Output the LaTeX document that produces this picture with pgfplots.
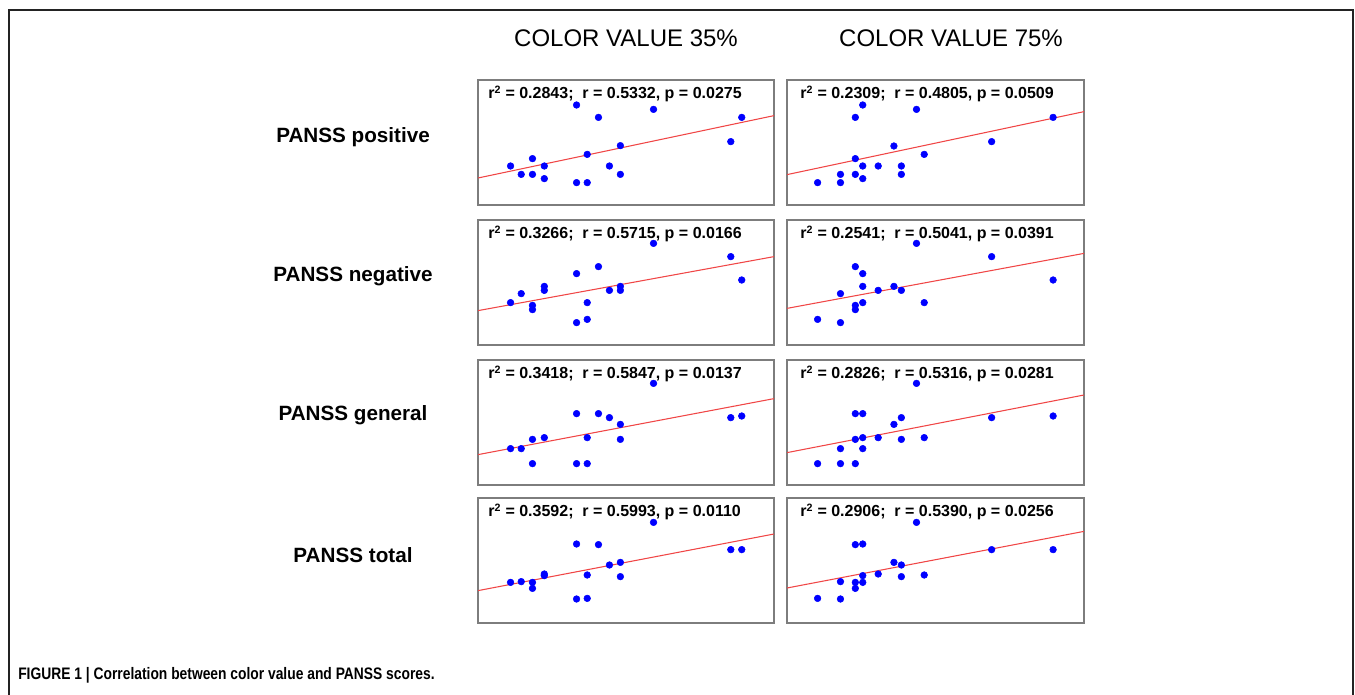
\documentclass[border=0pt]{standalone}
\usepackage{fontspec}
\setmainfont{Liberation Sans}
\usepackage{pgfplots}
\pgfplotsset{compat=1.18}
\definecolor{ptblue}{RGB}{0,0,255}
\definecolor{fitred}{RGB}{240,70,70}
\definecolor{boxgray}{RGB}{125,125,125}
\definecolor{framec}{RGB}{35,35,35}
\pgfplotsset{
  panel/.style={scale only axis, anchor=north west, height=93.75pt,
    xmin=0, xmax=100, ymin=0, ymax=100, xtick=\empty, ytick=\empty,
    axis line style={boxgray, line width=1.1pt}, clip=true},
  pts/.style={only marks, mark=*, mark size=2.5pt, color=ptblue,
    mark options={fill=ptblue, draw=ptblue}},
  fit/.style={no marks, color=fitred, line width=0.8pt}
}
\newcommand{\stat}[3]{\fontsize{12pt}{14pt}\selectfont\bfseries r\textsuperscript{2} = #1;\ \ r = #2, p = #3}
\begin{document}
\begin{tikzpicture}[x=0.75pt, y=-0.75pt]
\useasboundingbox (0,0) rectangle (1355,695);
\draw[line width=2pt, color=framec] (9,695) -- (9,10) -- (1353,10) -- (1353,695);

% column headings
\node[font=\fontsize{18pt}{21pt}\selectfont] at (626,38) {COLOR VALUE 35\%};
\node[font=\fontsize{18pt}{21pt}\selectfont] at (951,38) {COLOR VALUE 75\%};
% row labels
\node[font=\fontsize{15.5pt}{18pt}\selectfont\bfseries] at (353,137) {PANSS positive};
\node[font=\fontsize{15.5pt}{18pt}\selectfont\bfseries] at (353,276) {PANSS negative};
\node[font=\fontsize{15.5pt}{18pt}\selectfont\bfseries] at (353,415) {PANSS general};
\node[font=\fontsize{15.5pt}{18pt}\selectfont\bfseries] at (353,555) {PANSS total};

% Row 1: positive
\begin{axis}[panel, at={(358.5pt,-60pt)}, width=222pt]
\addplot[fit] coordinates {(0,21.6)(100,71.5)};
\addplot[pts] coordinates {(11.0,31.2)(14.6,24.5)(18.4,37.1)(18.4,24.5)(22.4,31.2)(22.4,21.1)(33.3,80.0)(33.3,17.9)(36.9,40.5)(36.9,17.9)(40.7,70.1)(44.4,31.2)(48.1,47.5)(48.1,24.5)(59.3,76.5)(85.4,50.7)(89.1,70.1)};
\end{axis}
\begin{axis}[panel, at={(590.25pt,-60pt)}, width=222.75pt]
\addplot[fit] coordinates {(0,24.3)(100,74.7)};
\addplot[pts] coordinates {(10.3,17.9)(18.0,24.5)(18.0,17.9)(23.0,70.1)(23.0,37.1)(23.0,24.5)(25.5,80.0)(25.5,31.2)(25.5,21.1)(30.7,31.2)(36.0,47.2)(38.5,31.2)(38.5,24.5)(43.6,76.5)(46.2,40.5)(68.9,50.7)(89.6,70.1)};
\end{axis}

% Row 2: negative
\begin{axis}[panel, at={(358.5pt,-165pt)}, width=222pt]
\addplot[fit] coordinates {(0,27.5)(100,70.7)};
\addplot[pts] coordinates {(11.0,33.9)(14.6,41.1)(18.4,31.7)(18.4,28.3)(22.4,46.9)(22.4,43.7)(33.3,57.1)(33.3,17.9)(36.9,33.9)(36.9,20.5)(40.7,62.7)(44.4,43.7)(48.1,46.9)(48.1,43.7)(59.3,81.3)(85.4,70.7)(89.1,52.0)};
\end{axis}
\begin{axis}[panel, at={(590.25pt,-165pt)}, width=222.75pt]
\addplot[fit] coordinates {(0,29.3)(100,73.3)};
\addplot[pts] coordinates {(10.3,20.5)(18.0,41.1)(18.0,17.9)(23.0,62.7)(23.0,31.7)(23.0,28.3)(25.5,57.1)(25.5,46.9)(25.5,33.9)(30.7,43.7)(36.0,46.9)(38.5,43.7)(43.6,81.3)(46.2,33.9)(68.9,70.7)(89.6,52.0)};
\end{axis}

% Row 3: general
\begin{axis}[panel, at={(358.5pt,-270pt)}, width=222pt]
\addplot[fit] coordinates {(0,24.3)(100,69.1)};
\addplot[pts] coordinates {(11.0,29.1)(14.6,29.1)(18.4,36.5)(18.4,17.1)(22.4,37.9)(33.3,57.1)(33.3,17.1)(36.9,37.9)(36.9,17.1)(40.7,57.1)(44.4,53.9)(48.1,48.5)(48.1,36.5)(59.3,81.3)(85.4,53.9)(89.1,55.2)};
\end{axis}
\begin{axis}[panel, at={(590.25pt,-270pt)}, width=222.75pt]
\addplot[fit] coordinates {(0,25.9)(100,72.0)};
\addplot[pts] coordinates {(10.3,17.1)(18.0,29.1)(18.0,17.1)(23.0,57.1)(23.0,36.5)(23.0,17.1)(25.5,57.1)(25.5,37.9)(25.5,29.1)(30.7,37.9)(36.0,48.5)(38.5,53.9)(38.5,36.5)(43.6,81.3)(46.2,37.9)(68.9,53.9)(89.6,55.2)};
\end{axis}

% Row 4: total
\begin{axis}[panel, at={(358.5pt,-373.5pt)}, width=222pt]
\addplot[fit] coordinates {(0,25.9)(100,71.2)};
\addplot[pts] coordinates {(11.0,32.5)(14.6,33.1)(18.4,32.5)(18.4,27.7)(22.4,39.2)(22.4,37.9)(33.3,63.2)(33.3,19.2)(36.9,38.4)(36.9,19.7)(40.7,62.7)(44.4,46.4)(48.1,48.5)(48.1,37.1)(59.3,80.5)(85.4,58.7)(89.1,58.7)};
\end{axis}
\begin{axis}[panel, at={(590.25pt,-373.5pt)}, width=222.75pt]
\addplot[fit] coordinates {(0,28.0)(100,73.3)};
\addplot[pts] coordinates {(10.3,19.7)(18.0,33.1)(18.0,19.2)(23.0,62.7)(23.0,32.5)(23.0,27.7)(25.5,63.2)(25.5,37.9)(25.5,32.5)(30.7,39.2)(36.0,48.5)(38.5,46.4)(38.5,37.1)(43.6,80.5)(46.2,38.4)(68.9,58.7)(89.6,58.7)};
\end{axis}

% statistics
\node[anchor=west, inner sep=0pt] at (488,94) {\stat{0.2843}{0.5332}{0.0275}};
\node[anchor=west, inner sep=0pt] at (800,94) {\stat{0.2309}{0.4805}{0.0509}};
\node[anchor=west, inner sep=0pt] at (488,234) {\stat{0.3266}{0.5715}{0.0166}};
\node[anchor=west, inner sep=0pt] at (800,234) {\stat{0.2541}{0.5041}{0.0391}};
\node[anchor=west, inner sep=0pt] at (488,374) {\stat{0.3418}{0.5847}{0.0137}};
\node[anchor=west, inner sep=0pt] at (800,374) {\stat{0.2826}{0.5316}{0.0281}};
\node[anchor=west, inner sep=0pt] at (488,512) {\stat{0.3592}{0.5993}{0.0110}};
\node[anchor=west, inner sep=0pt] at (800,512) {\stat{0.2906}{0.5390}{0.0256}};

% caption
\node[anchor=base west, inner sep=0pt] at (18,679) {\scalebox{0.83}[1]{\fontsize{12.5pt}{15pt}\selectfont\bfseries FIGURE 1 | Correlation between color value and PANSS scores.}};
\end{tikzpicture}
\end{document}
